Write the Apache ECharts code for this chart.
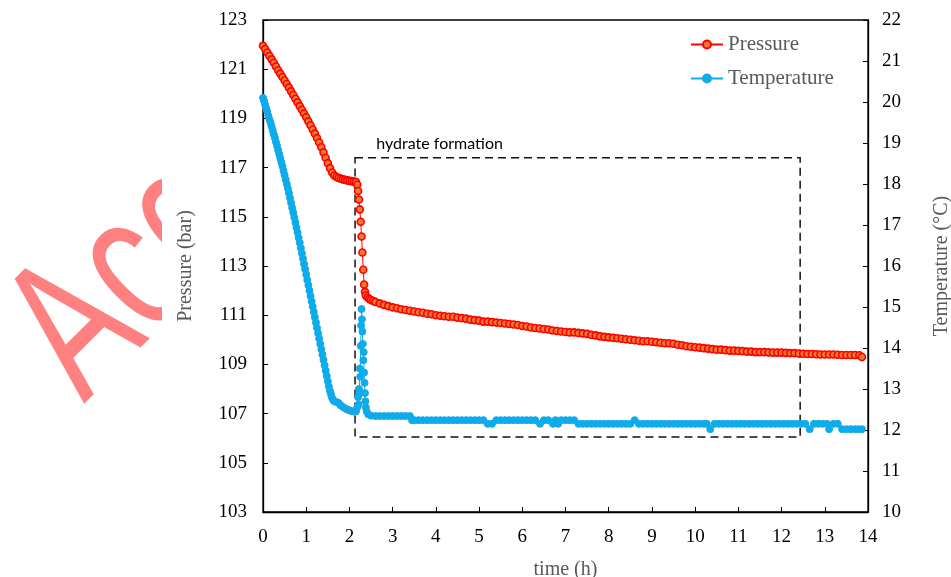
<!DOCTYPE html>
<html>
<head>
<meta charset="utf-8">
<script src="https://cdn.jsdelivr.net/npm/echarts@6/dist/echarts.min.js"></script>
<style>html,body{margin:0;padding:0;background:#fff}#c{width:951px;height:577px}</style>
</head>
<body>
<div id="c"></div>
<script>
// ---- data ----
const pressureTime = [0.00,0.05,0.10,0.15,0.20,0.25,0.30,0.35,0.40,0.45,0.50,0.55,0.60,0.65,0.70,0.75,0.80,0.85,0.90,0.95,1.00,1.05,1.10,1.15,1.20,1.25,1.30,1.35,1.40,1.45,1.50,1.55,1.60,1.65,1.70,1.75,1.80,1.85,1.90,1.95,2.00,2.05,2.10,2.15,2.18,2.20,2.22,2.24,2.26,2.28,2.30,2.32,2.34,2.36,2.38,2.42,2.46,2.50,2.55,2.60,2.70,2.80,2.90,3.00,3.10,3.20,3.30,3.40,3.50,3.60,3.70,3.80,3.90,4.00,4.10,4.20,4.30,4.40,4.50,4.60,4.70,4.80,4.90,5.00,5.10,5.20,5.30,5.40,5.50,5.60,5.70,5.80,5.90,6.00,6.10,6.20,6.30,6.40,6.50,6.60,6.70,6.80,6.90,7.00,7.10,7.20,7.30,7.40,7.50,7.60,7.70,7.80,7.90,8.00,8.10,8.20,8.30,8.40,8.50,8.60,8.70,8.80,8.90,9.00,9.10,9.20,9.30,9.40,9.50,9.60,9.70,9.80,9.90,10.00,10.10,10.20,10.30,10.40,10.50,10.60,10.70,10.80,10.90,11.00,11.10,11.20,11.30,11.40,11.50,11.60,11.70,11.80,11.90,12.00,12.10,12.20,12.30,12.40,12.50,12.60,12.70,12.80,12.90,13.00,13.10,13.20,13.30,13.40,13.50,13.60,13.70,13.80,13.86];
const pressureValue = [121.95,121.82,121.68,121.54,121.40,121.26,121.11,120.96,120.82,120.68,120.54,120.40,120.25,120.10,119.95,119.80,119.65,119.50,119.35,119.20,119.05,118.88,118.72,118.55,118.38,118.20,118.02,117.83,117.62,117.40,117.18,116.98,116.80,116.68,116.62,116.58,116.55,116.52,116.50,116.48,116.46,116.45,116.43,116.42,116.30,116.05,115.70,115.30,114.80,114.20,113.55,112.85,112.25,111.95,111.80,111.72,111.66,111.62,111.58,111.54,111.48,111.42,111.37,111.32,111.28,111.24,111.21,111.18,111.15,111.12,111.10,111.06,111.04,111.00,110.98,110.96,110.94,110.94,110.90,110.88,110.86,110.82,110.80,110.78,110.74,110.74,110.72,110.70,110.68,110.66,110.64,110.62,110.60,110.56,110.54,110.50,110.48,110.46,110.44,110.42,110.38,110.36,110.34,110.32,110.30,110.30,110.28,110.26,110.24,110.20,110.18,110.14,110.12,110.10,110.08,110.06,110.04,110.02,110.00,109.98,109.96,109.94,109.94,109.92,109.90,109.88,109.86,109.86,109.84,109.80,109.78,109.74,109.72,109.70,109.68,109.66,109.64,109.62,109.60,109.60,109.58,109.56,109.56,109.55,109.54,109.52,109.52,109.50,109.50,109.50,109.49,109.48,109.48,109.48,109.47,109.46,109.46,109.44,109.43,109.42,109.42,109.41,109.40,109.40,109.40,109.40,109.39,109.38,109.38,109.38,109.38,109.37,109.30];

const tempTime = [0.000,0.025,0.050,0.075,0.100,0.125,0.150,0.175,0.200,0.225,0.250,0.275,0.300,0.325,0.350,0.375,0.400,0.425,0.450,0.475,0.500,0.525,0.550,0.575,0.600,0.625,0.650,0.675,0.700,0.725,0.750,0.775,0.800,0.825,0.850,0.875,0.900,0.925,0.950,0.975,1.000,1.025,1.050,1.075,1.100,1.125,1.150,1.175,1.200,1.225,1.250,1.275,1.300,1.325,1.350,1.375,1.400,1.425,1.450,1.475,1.500,1.525,1.550,1.575,1.600,1.625,1.650,1.700,1.750,1.800,1.850,1.900,1.950,2.000,2.050,2.100,2.150,2.18,2.20,2.21,2.22,2.23,2.24,2.25,2.26,2.27,2.28,2.29,2.30,2.31,2.32,2.33,2.34,2.35,2.36,2.37,2.38,2.40,2.44,2.50,2.60,2.70,2.80,2.90,3.00,3.10,3.20,3.30,3.40,3.45,3.50,3.60,3.70,3.80,3.90,4.00,4.10,4.20,4.30,4.40,4.50,4.60,4.70,4.80,4.90,5.00,5.10,5.20,5.30,5.40,5.50,5.60,5.70,5.80,5.90,6.00,6.10,6.20,6.30,6.41,6.50,6.60,6.71,6.77,6.83,6.90,7.00,7.10,7.20,7.30,7.40,7.50,7.60,7.70,7.80,7.90,8.00,8.10,8.20,8.30,8.40,8.50,8.60,8.70,8.80,8.90,9.00,9.10,9.20,9.30,9.40,9.50,9.60,9.70,9.80,9.90,10.00,10.10,10.20,10.27,10.35,10.45,10.55,10.65,10.75,10.85,10.95,11.05,11.15,11.25,11.35,11.45,11.55,11.65,11.75,11.85,11.95,12.05,12.15,12.25,12.35,12.45,12.55,12.65,12.75,12.85,12.95,13.05,13.10,13.20,13.30,13.40,13.50,13.60,13.70,13.78,13.86];
const tempValue = [20.10,20.02,19.93,19.84,19.76,19.66,19.57,19.49,19.40,19.31,19.21,19.12,19.02,18.93,18.83,18.73,18.63,18.53,18.43,18.32,18.22,18.11,18.00,17.89,17.78,17.66,17.54,17.42,17.30,17.18,17.06,16.94,16.82,16.69,16.57,16.44,16.31,16.18,16.05,15.92,15.79,15.66,15.53,15.40,15.27,15.14,15.01,14.88,14.75,14.62,14.49,14.36,14.23,14.10,13.97,13.84,13.71,13.58,13.45,13.32,13.19,13.06,12.95,12.86,12.78,12.73,12.70,12.68,12.66,12.60,12.56,12.53,12.50,12.48,12.46,12.45,12.45,12.55,12.80,12.62,13.00,12.90,13.50,13.30,14.05,14.55,14.95,14.70,14.40,14.10,13.70,13.90,13.40,13.15,12.90,12.70,12.55,12.45,12.38,12.35,12.34,12.34,12.34,12.34,12.34,12.34,12.34,12.34,12.34,12.24,12.24,12.24,12.24,12.24,12.24,12.24,12.24,12.24,12.24,12.24,12.24,12.24,12.24,12.24,12.24,12.24,12.24,12.15,12.15,12.24,12.24,12.24,12.24,12.24,12.24,12.24,12.24,12.24,12.24,12.15,12.24,12.24,12.15,12.24,12.15,12.24,12.24,12.24,12.24,12.15,12.15,12.15,12.15,12.15,12.15,12.15,12.15,12.15,12.15,12.15,12.15,12.15,12.24,12.15,12.15,12.15,12.15,12.15,12.15,12.15,12.15,12.15,12.15,12.15,12.15,12.15,12.15,12.15,12.15,12.15,12.02,12.15,12.15,12.15,12.15,12.15,12.15,12.15,12.15,12.15,12.15,12.15,12.15,12.15,12.15,12.15,12.15,12.15,12.15,12.15,12.15,12.15,12.15,12.02,12.15,12.15,12.15,12.15,12.02,12.15,12.15,12.02,12.02,12.02,12.02,12.02,12.02,12.02,12.15];

const pressureTicks = [103,105,107,109,111,113,115,117,119,121,123];
const seriesNames = ['Pressure','Temperature'];
const hydrateBox = {t0:2.13, t1:12.43, p0:106.05, p1:117.4, label:'hydrate formation'};

// ---- chart ----
const serif = 'Liberation Serif';
const chart = echarts.init(document.getElementById('c'), null, {renderer:'canvas'});
const pair = (xs, ys) => xs.map((x,i)=>[x, ys[i]]);

chart.setOption({
  backgroundColor:'#fff',
  animation:false,
  graphic:[
    {type:'text', z:-10, x:45, y:365, rotation:Math.PI/4, scaleX:0.7, scaleY:1,
     style:{text:'Accepted', fill:'#FF8080', font:'200px Liberation Sans',
            textAlign:'left', textVerticalAlign:'middle', align:'left', verticalAlign:'middle'}},
    {type:'rect', z:-5, shape:{x:162, y:0, width:800, height:577}, style:{fill:'#ffffff'}}
  ],
  grid:{left:263, right:83, top:20, bottom:65, outerBoundsMode:'none', containLabel:false,
        show:true, borderColor:'#000', borderWidth:1.3, backgroundColor:'transparent'},
  legend:{
    orient:'vertical', left:690, top:34, padding:0, itemGap:13, itemWidth:32, itemHeight:10,
    data:seriesNames,
    textStyle:{fontFamily:serif, fontSize:21, color:'#595959'}
  },
  xAxis:{
    type:'value', min:0, max:14, interval:1,
    name:'time (h)', nameLocation:'middle', nameGap:48,
    nameTextStyle:{fontFamily:serif, fontSize:20, color:'#595959'},
    axisLine:{show:true, lineStyle:{color:'#000', width:1.3}},
    axisTick:{show:true, inside:true, length:5, lineStyle:{color:'#000'}},
    axisLabel:{fontFamily:serif, fontSize:19, color:'#000', margin:16},
    splitLine:{show:false}
  },
  yAxis:[
    {
      type:'value', min:103, max:123, position:'left',
      name:'Pressure (bar)', nameLocation:'middle', nameGap:67, nameRotate:90,
      nameTextStyle:{fontFamily:serif, fontSize:20, color:'#595959'},
      axisLine:{show:true, lineStyle:{color:'#000', width:1.3}},
      axisTick:{show:true, inside:true, length:5, lineStyle:{color:'#000'}, customValues:pressureTicks},
      axisLabel:{fontFamily:serif, fontSize:19, color:'#000', margin:16, customValues:pressureTicks},
      splitLine:{show:false}
    },
    {
      type:'value', min:10, max:22, interval:1, position:'right',
      name:'Temperature (°C)', nameLocation:'middle', nameGap:64, nameRotate:90,
      nameTextStyle:{fontFamily:serif, fontSize:20, color:'#595959'},
      axisLine:{show:true, lineStyle:{color:'#000', width:1.3}},
      axisTick:{show:true, inside:true, length:5, lineStyle:{color:'#000'}},
      axisLabel:{fontFamily:serif, fontSize:19, color:'#000', margin:14},
      splitLine:{show:false}
    }
  ],
  series:[
    {
      name:seriesNames[0], type:'line', yAxisIndex:0,
      data:pair(pressureTime, pressureValue),
      symbol:'circle', symbolSize:7, showAllSymbol:true,
      lineStyle:{color:'#FF0000', width:1},
      itemStyle:{color:'#F07830', borderColor:'#FF0000', borderWidth:1.6},
      emphasis:{disabled:true},
      markArea:{
        silent:true,
        itemStyle:{color:'rgba(0,0,0,0)', borderColor:'#111', borderWidth:1.5, borderType:[8,5]},
        label:{show:true, position:[22,-21], color:'#000', fontFamily:'Lato', fontSize:16},
        data:[[{name:hydrateBox.label, xAxis:hydrateBox.t0, yAxis:hydrateBox.p1},{xAxis:hydrateBox.t1, yAxis:hydrateBox.p0}]]
      }
    },
    {
      name:seriesNames[1], type:'line', yAxisIndex:1,
      data:pair(tempTime, tempValue),
      symbol:'circle', symbolSize:7, showAllSymbol:true,
      lineStyle:{color:'#00B0F0', width:1},
      itemStyle:{color:'#00B0F0', borderColor:'#28A4E0', borderWidth:1},
      emphasis:{disabled:true}
    }
  ]
});
</script>
</body>
</html>
